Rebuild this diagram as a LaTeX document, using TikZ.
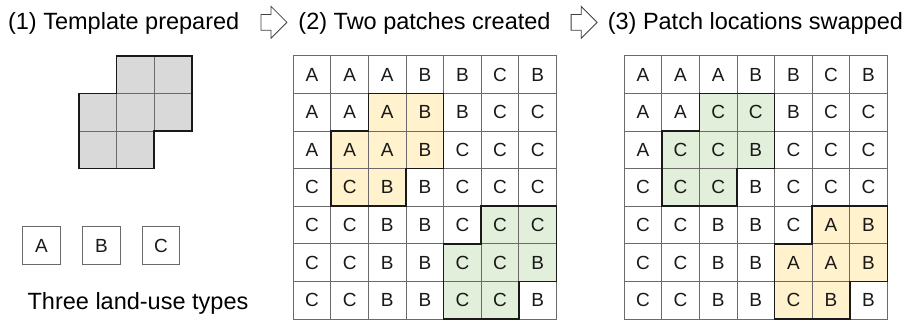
\documentclass[tikz,border=0pt]{standalone}
\usepackage{fontspec}
\setmainfont{Liberation Sans}
\usetikzlibrary{shapes.arrows}

\definecolor{patchyellow}{HTML}{FFF2CC}
\definecolor{patchgreen}{HTML}{E2EFDA}
\definecolor{tplgray}{HTML}{D9D9D9}
\definecolor{linegray}{HTML}{6A6A6A}

\tikzset{
  cell/.style={draw=linegray, line width=0.8pt, minimum size=37.6pt, inner sep=0pt,
               text=black!90, font=\fontsize{19}{21}\selectfont},
  title/.style={inner sep=0pt, font=\fontsize{23.5}{28}\selectfont},
  steparrow/.style={single arrow, draw=black!75, fill=white, line width=0.8pt,
                    minimum height=26pt, inner xsep=0pt, inner ysep=7.5pt,
                    single arrow head extend=8pt},
  patchline/.style={draw=black!90, line width=1.6pt},
  patch/.pic={\path[pic actions] (1,0) -- (3,0) -- (3,-2) -- (2,-2) -- (2,-3)
               -- (0,-3) -- (0,-1) -- (1,-1) -- cycle;}
}

% land-use maps, row by row from the top
\newcommand{\mapbefore}{{A,A,A,B,B,C,B},{A,A,A,B,B,C,C},{A,A,A,B,C,C,C},{C,C,B,B,C,C,C},%
  {C,C,B,B,C,C,C},{C,C,B,B,C,C,B},{C,C,B,B,C,C,B}}
\newcommand{\mapafter}{{A,A,A,B,B,C,B},{A,A,C,C,B,C,C},{A,C,C,B,C,C,C},{C,C,C,B,C,C,C},%
  {C,C,B,B,C,A,B},{C,C,B,B,A,A,B},{C,C,B,B,C,B,B}}

\begin{document}
\begin{tikzpicture}[x=37.6pt,y=37.6pt]
  \useasboundingbox (0,0) rectangle (24.202,8.564);

  % titles
  \node[title, anchor=base west] (step1) at (0.21,7.79) {(1) Template prepared};
  \node[title, anchor=base] (step2) at (11.29,7.79) {(2) Two patches created};
  \node[title, anchor=base] (step3) at (20.09,7.79) {(3) Patch locations swapped};
  \node[steparrow] (arrow1) at (7.18,7.97) {};
  \node[steparrow] (arrow2) at (15.43,7.97) {};

  % (1) template
  \begin{scope}[shift={(2.10,7.08)}]
    \foreach \r/\c in {1/2,1/3,2/1,2/2,2/3,3/1,3/2}
      \node[cell, fill=tplgray] (tpl-\r-\c) at (\c-0.5,0.5-\r) {};
    \pic[patchline] at (0,0) {patch};
  \end{scope}

  % legend
  \node[cell] (typeA) at (1.10,2.03) {A};
  \node[cell] (typeB) at (2.70,2.03) {B};
  \node[cell] (typeC) at (4.28,2.03) {C};
  \node[title, anchor=base] (types) at (3.67,0.32) {Three land-use types};

  % (2) two patches
  \begin{scope}[shift={(7.80,7.08)}]
    \pic[fill=patchyellow] at (1,-1) {patch};
    \pic[fill=patchgreen] at (4,-4) {patch};
    \foreach \row [count=\r] in \mapbefore
      \foreach \t [count=\c] in \row
        \node[cell] (before-\r-\c) at (\c-0.5,0.5-\r) {\t};
    \pic[patchline] at (1,-1) {patch};
    \pic[patchline] at (4,-4) {patch};
  \end{scope}

  % (3) swapped
  \begin{scope}[shift={(16.60,7.08)}]
    \pic[fill=patchgreen] at (1,-1) {patch};
    \pic[fill=patchyellow] at (4,-4) {patch};
    \foreach \row [count=\r] in \mapafter
      \foreach \t [count=\c] in \row
        \node[cell] (after-\r-\c) at (\c-0.5,0.5-\r) {\t};
    \pic[patchline] at (1,-1) {patch};
    \pic[patchline] at (4,-4) {patch};
  \end{scope}
\end{tikzpicture}
\end{document}
